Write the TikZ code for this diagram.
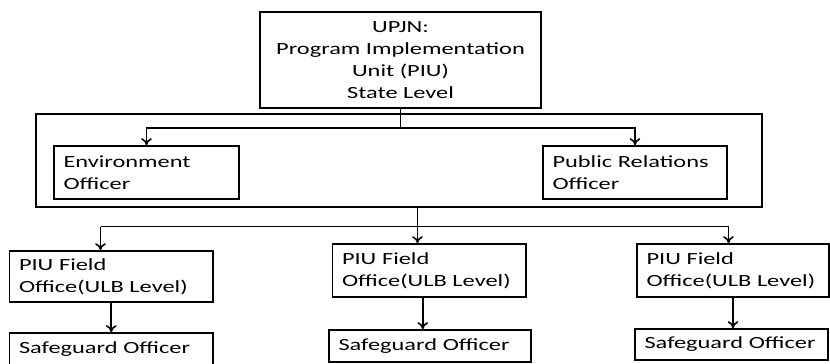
\documentclass[tikz,border=0pt]{standalone}
\usepackage{fontspec}
\setmainfont{Carlito}[FakeStretch=1.43]
\usepackage{tikz}
\usetikzlibrary{arrows.meta}
\tikzstyle{chart}=[line width=0.9pt,draw=black,font=\fontsize{9.7}{12.5}\selectfont]
\tikzstyle{head}=[rectangle,draw,align=center,minimum width=5.62cm,minimum height=1.92cm,inner sep=0pt]
\tikzstyle{group}=[rectangle,draw,minimum width=14.52cm,minimum height=1.86cm,inner sep=0pt]
\tikzstyle{unit}=[rectangle,draw,align=left,inner xsep=0.19cm,inner ysep=0pt,minimum height=1.06cm]
\tikzstyle{sg}=[rectangle,draw,align=left,inner xsep=0.19cm,inner ysep=0pt,minimum height=0.64cm]
\tikzstyle{edge}=[-{To[length=4pt,width=6pt]}]

\begin{document}
\begin{tikzpicture}[chart]
				\useasboundingbox (0,0) rectangle (16.6,-7.26);
				
				%The state level
				\draw (8.01,-1.2) node[head] (top) {UPJN:\\Program Implementation\\Unit (PIU)\\State Level};
				
				%The officers at state level
				\draw (7.98,-3.21) node[group] (grp) {};
				\draw (2.93,-3.45) node[unit, text width=3.32cm] (env) {Environment\\Officer};
				\draw (12.70,-3.45) node[unit, text width=3.30cm] (pr) {Public Relations\\Officer};
				
				%The field offices
				\draw (2.225,-5.53) node[unit, text width=3.69cm, minimum height=1.02cm] (piu1) {PIU Field\\Office(ULB Level)};
				\draw (8.585,-5.41) node[unit, text width=3.49cm] (piu2) {PIU Field\\Office(ULB Level)};
				\draw (14.66,-5.41) node[unit, text width=3.46cm] (piu3) {PIU Field\\Office(ULB Level)};
				
				\draw (2.225,-6.98) node[sg, text width=3.69cm] (so1) {Safeguard Officer};
				\draw (8.60,-6.92) node[sg, text width=3.66cm] (so2) {Safeguard Officer};
				\draw (14.63,-6.89) node[sg, text width=3.48cm, minimum height=0.62cm] (so3) {Safeguard Officer};
				
				%The branch points
				\coordinate (a) at (8.01,-2.554);
				\coordinate (b1) at (2.01,-4.53);
				\coordinate (b2) at (8.35,-4.53);
				\coordinate (b3) at (14.57,-4.53);
				
				\draw (top.south) -- (a);
				\draw[edge] (a) -| (env.north);
				\draw[edge] (a) -| (pr.north);
				
				\draw (b1) -- (b3);
				\draw[edge] (grp.south -| b2) -- (piu2.north -| b2);
				\draw[edge] (b1) -- (piu1.north -| b1);
				\draw[edge] (b3) -- (piu3.north -| b3);
				
				\draw[edge] (piu1.south) -- (piu1.south |- so1.north);
				\draw[edge] ([xshift=-0.13cm]piu2.south) -- ([xshift=-0.13cm]piu2.south |- so2.north);
				\draw[edge] (piu3.south) -- (piu3.south |- so3.north);
			\end{tikzpicture}
\end{document}
